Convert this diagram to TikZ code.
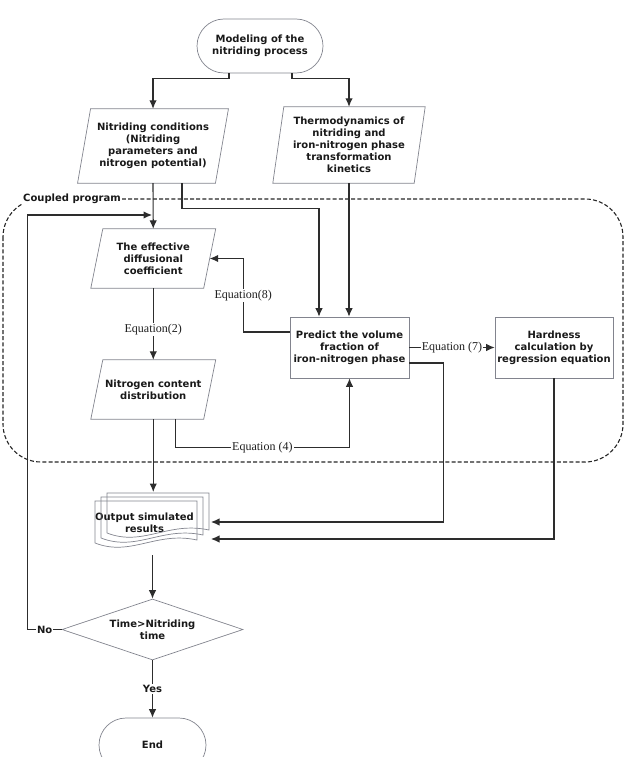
\documentclass[tikz,border=0pt]{standalone}
\usepackage{fontspec}
\setmainfont{DejaVu Sans}
\newfontfamily\eqfont{Liberation Serif}
\usetikzlibrary{arrows.meta,calc,shapes.geometric}
\definecolor{lnk}{RGB}{45,45,45}
\definecolor{shp}{RGB}{130,132,142}
\newcommand\drawpara[2]{%
  \draw[shapeline] ($(#1.north west)+(#2,0)$) -- ($(#1.north east)+(#2,0)$)
    -- ($(#1.south east)-(#2,0)$) -- ($(#1.south west)-(#2,0)$) -- cycle;}
\begin{document}
\begin{tikzpicture}[x=1pt,y=-1pt,
  txt/.style={font=\fontsize{10}{12}\selectfont\bfseries, text=black!90, align=center, inner sep=0pt},
  shapeline/.style={draw=shp, line width=0.7pt},
  arr/.style={draw=lnk, line width=1.1pt, -{Latex[length=8.5pt,width=7.5pt]}},
  eqlab/.style={font=\eqfont\fontsize{12}{12}\selectfont, text=black!88, fill=white, inner sep=1.2pt},
  lab/.style={font=\fontsize{10}{12}\selectfont\bfseries, text=black!90, fill=white, inner sep=1pt}]
\useasboundingbox (0,0) rectangle (625,757);
\clip (0,0) rectangle (625,757);

% coupled program container
\draw[black!85, line width=1.1pt, dash pattern=on 4pt off 2.2pt, rounded corners=38pt] (3,199) rectangle (623,462);
\node[lab, anchor=west] (cp) at (22,199) {Coupled program};

% nodes
\node[txt, shapeline, rounded corners=27pt, minimum width=126pt, minimum height=54pt] (start) at (260,46) {Modeling of the\\nitriding process};
\node[txt, minimum width=137.5pt, minimum height=74pt] (cond) at (153,146) {Nitriding conditions\\(Nitriding\\parameters and\\nitrogen potential)};
\node[txt, minimum width=141pt, minimum height=76pt] (thermo) at (349,145) {Thermodynamics of\\nitriding and\\iron-nitrogen phase\\transformation\\kinetics};
\node[txt, minimum width=112.5pt, minimum height=59pt] (eff) at (153.25,258.5) {The effective\\diffusional\\coefficient};
\node[txt, minimum width=112.5pt, minimum height=59pt] (nit) at (153.25,389.5) {Nitrogen content\\distribution};
\node[txt, shapeline, minimum width=119pt, minimum height=61pt] (pred) at (349.5,347.5) {Predict the volume\\fraction of\\iron-nitrogen phase};
\node[txt, shapeline, minimum width=118pt, minimum height=61pt] (hard) at (554,347.5) {Hardness\\calculation by\\regression equation};
\node[txt] (out) at (144.5,523) {Output simulated\\results};
\node[txt, shapeline, diamond, aspect=3, minimum width=181pt, minimum height=61pt] (dec) at (152.5,629.5) {Time>Nitriding\\time};
\node[txt, shapeline, rounded corners=27pt, minimum width=107pt, minimum height=54pt] (end) at (152.5,745) {End};

\drawpara{cond}{6.5}
\drawpara{thermo}{5.5}
\drawpara{eff}{6}
\drawpara{nit}{6}

% multi-document sheets
\draw[shapeline] (107,533) -- (107,493) -- (209,493) -- (209,530) .. controls (168,521) and (143,547) .. (107,533);
\draw[shapeline] (101,538) -- (101,497) -- (203,497) -- (203,535) .. controls (162,526) and (137,552) .. (101,538);
\draw[shapeline] (95,543) -- (95,501) -- (197,501) -- (197,540) .. controls (156,531) and (131,557) .. (95,543);

\coordinate (outN) at (153,492);
\coordinate (outE1) at (211,522);
\coordinate (outE2) at (211,539);
\coordinate (outS) at (153,555);
\coordinate (join) at (152,215);

% connectors
\draw[arr] ($(start.south)+(-31,0)$) -- ++(0,5) -| (cond.north);
\draw[arr] ($(start.south)+(32,0)$) -- ++(0,5) -| (thermo.north);
\draw[arr] (cond.south) -- (eff.north);
\draw[arr] ($(cond.south)+(29,0)$) -- ++(0,25) -| ($(pred.north)+(-30.5,0)$);
\draw[arr] (thermo.south) -- (thermo.south |- pred.north);
\draw[arr] (eff.south) -- node[eqlab, pos=0.58]{Equation(2)} (nit.north);
\draw[arr] ($(pred.west)+(0,-15.5)$) -| ($(eff.east)+(33.5,0)$) node[eqlab, pos=0.75]{Equation(8)} -- (eff.east);
\draw[arr] ($(nit.south)+(22,0)$) |- ($(pred.south)+(0,69)$) node[eqlab, pos=0.75]{Equation (4)} -- (pred.south);
\draw[arr] (pred.east) -- node[eqlab, inner xsep=0.5pt]{Equation (7)} (hard.west);
\draw[arr] ($(pred.east)+(0,15.5)$) -- ++(34,0) |- (outE1);
\draw[arr] (hard.south) |- (outE2);
\draw[arr] (nit.south) -- (nit.south |- outN);
\draw[arr] (dec.north |- outS) -- (dec.north);
\draw[arr] (dec.south) -- node[lab]{Yes} (end.north);
\draw[arr] (dec.west) -- node[lab]{No} ++(-34,0) |- (join);
\end{tikzpicture}
\end{document}
